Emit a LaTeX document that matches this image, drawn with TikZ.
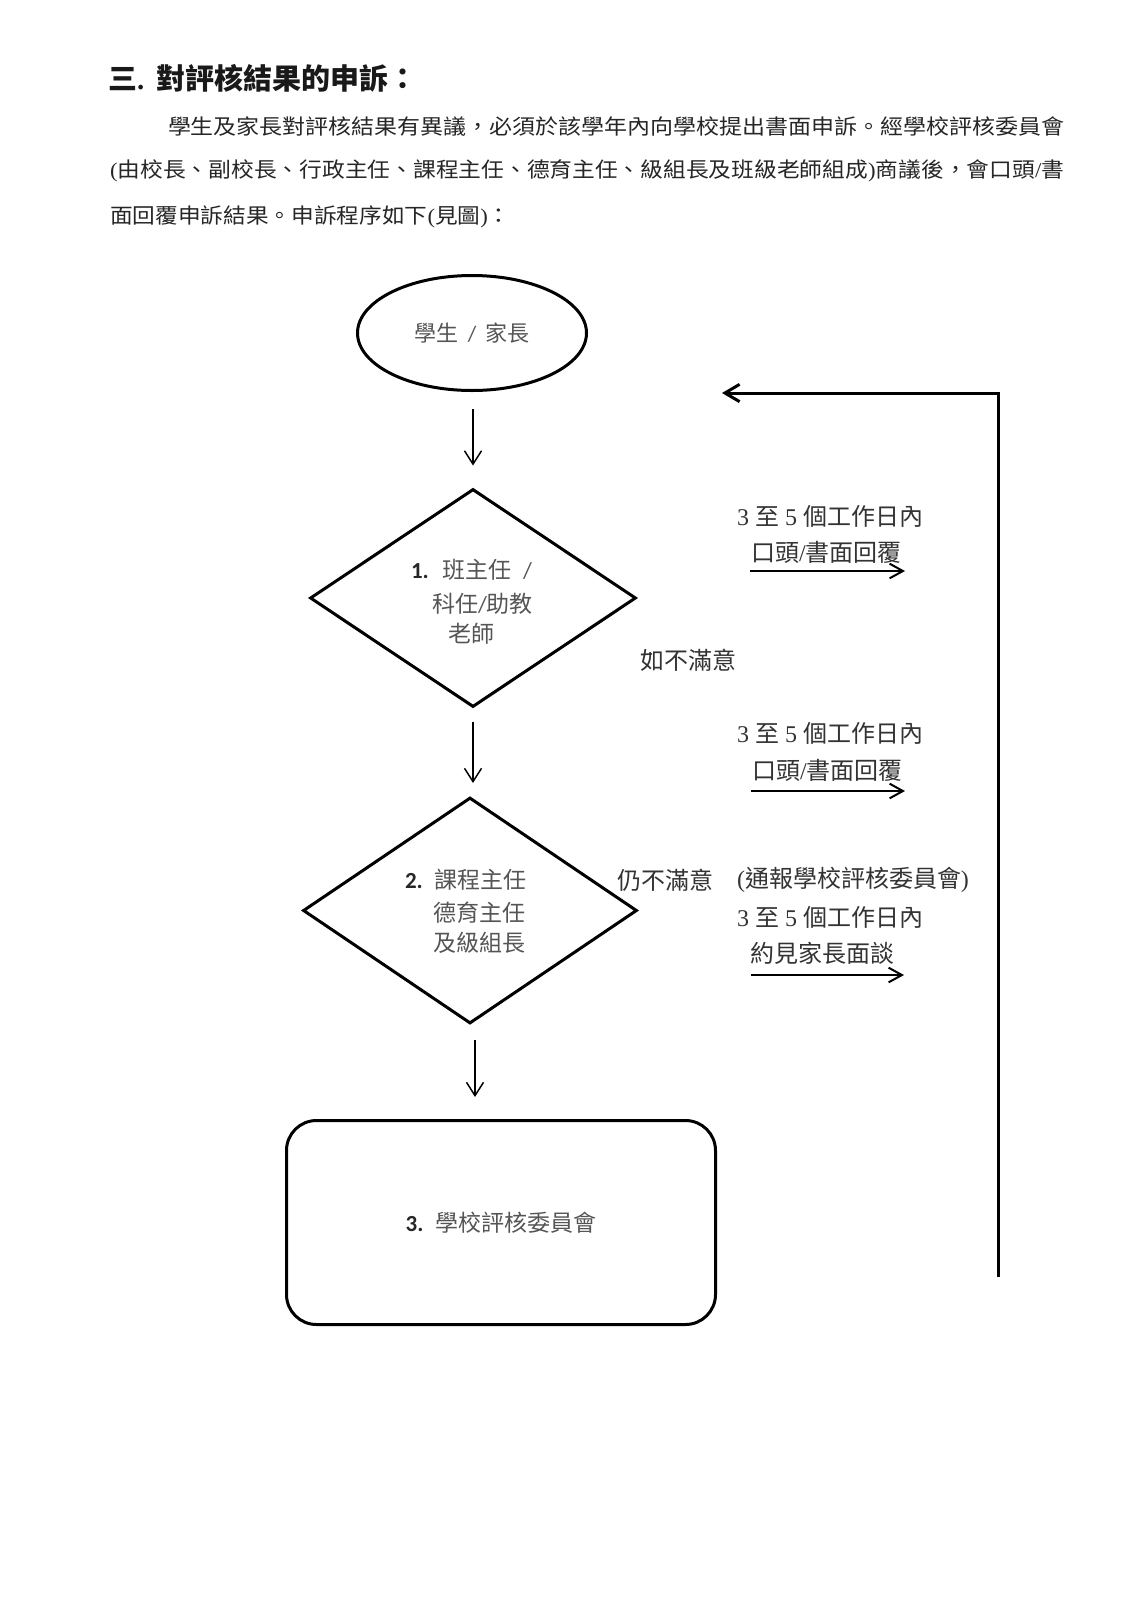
\documentclass[tikz,border=0pt]{standalone}
\usepackage{fontspec}
\usepackage{graphicx}
\usetikzlibrary{shapes.geometric,arrows.meta,calc}
\newfontfamily\cjk{Noto Sans CJK TC}
\newfontfamily\lat{Liberation Serif}
\newfontfamily\numfont{Carlito}
\newcommand\fsz[1]{\fontsize{#1}{#1}\selectfont}
\definecolor{bodytxt}{HTML}{262626}
\definecolor{nodetxt}{HTML}{555555}
\definecolor{numtxt}{HTML}{262626}
\definecolor{labtxt}{HTML}{333333}
\begin{document}
\begin{tikzpicture}[x=0.75pt,y=-0.75pt,
  plain/.style={inner sep=0pt, outer sep=0pt},
  bodyline/.style={plain, anchor=west, font=\cjk\fsz{15.75pt}, text=bodytxt},
  nodeline/.style={plain, anchor=west, font=\cjk\fsz{17.25pt}, text=nodetxt},
  labline/.style={plain, anchor=west, font=\cjk\fsz{18pt}, text=labtxt},
  shapeline/.style={draw=black, line width=2.25pt},
  flowarrow/.style={line width=1.1pt, -{Straight Barb[length=10pt,width=12.75pt,line width=1.1pt]}},
  labarrow/.style={line width=1.5pt, -{Straight Barb[length=10pt,width=11pt,line width=1.5pt]}},
  backarrow/.style={line width=2.25pt, -{Straight Barb[length=11pt,width=13pt,line width=2.25pt]}}
]
\fill[white] (0,0) rectangle (1131,1600);
\useasboundingbox (0,0) rectangle (1131,1600);

% header
\node[plain, anchor=west, font=\cjk\fsz{21.75pt}\bfseries, text=black!90] (title) at (108,78)
  {三{\lat .}\hspace{9pt}對評核結果的申訴：};
\node[bodyline] (p1) at (168,127)
  {\resizebox{672pt}{\height}{學生及家長對評核結果有異議，必須於該學年內向學校提出書面申訴。經學校評核委員會}};
\node[bodyline] (p2) at (110,171)
  {\resizebox{715.5pt}{\height}{{\lat(}由校長、副校長、行政主任、課程主任、德育主任、級組長及班級老師組成{\lat)}商議後，會口頭{\lat/}書}};
\node[bodyline] (p3) at (110,217)
  {\scalebox{1.08}[1]{面回覆申訴結果。申訴程序如下{\lat(}見圖{\lat)}：}};

% flow shapes
\node[shapeline, ellipse, minimum width=171.75pt, minimum height=86.25pt, inner sep=0pt,
      font=\cjk\fsz{16.5pt}, text=nodetxt] (start) at (472,333)
  {學生\hspace{7pt}{\numfont /}\hspace{7pt}家長};
\node[shapeline, diamond, minimum width=244.5pt, minimum height=163.5pt, inner sep=0pt] (d1) at (473,598) {};
\node[shapeline, diamond, minimum width=250.5pt, minimum height=169.5pt, inner sep=0pt] (d2) at (470,910.5) {};
\node[shapeline, rounded corners=22.5pt, minimum width=321.75pt, minimum height=153pt, inner sep=0pt,
      font=\cjk\fsz{17.25pt}, text=nodetxt] (board) at (501,1222.5)
  {{\numfont\bfseries\color{numtxt}3.}\hspace{9pt}學校評核委員會};

% text in diamonds
\node[nodeline] (d1a) at (411,570) {{\numfont\bfseries\color{numtxt}1.}\hspace{10pt}班主任\hspace{9pt}{\numfont /}};
\node[nodeline] (d1b) at (432,604) {科任{\numfont /}助教};
\node[nodeline] (d1c) at (448,634) {老師};
\node[nodeline] (d2a) at (405,880) {{\numfont\bfseries\color{numtxt}2.}\hspace{9pt}課程主任};
\node[nodeline] (d2b) at (433,913) {德育主任};
\node[nodeline] (d2c) at (433,943) {及級組長};

% flow arrows (vertical)
\draw[flowarrow] ($(d1.north |- start.south)+(0,17)$) -- ($(d1.north)+(0,-22)$);
\draw[flowarrow] ($(d1.south)+(0,13)$) -- ($(d1.south |- d2.north)+(0,-13)$);
\draw[flowarrow] ($(d2.south)+(5,15)$) -- ($(d2.south |- board.north)+(5,-22)$);

% feedback loop
\coordinate (loopbot) at (998,1277);
\coordinate (looptop) at (998,393);
\coordinate (loopend) at (722,393);
\draw[backarrow] (loopbot) -- (looptop) -- (loopend);

% side labels
\node[labline] (l1a) at (737,516) {{\lat 3 }至{\lat\ 5 }個工作日內};
\node[labline] (l1b) at (751,552) {口頭{\lat /}書面回覆};
\coordinate (a1s) at (750,571);
\coordinate (a1e) at (905,571);
\draw[labarrow] (a1s) -- (a1e);

\node[labline] (ns1) at (640,660) {如不滿意};

\node[labline] (l2a) at (737,733) {{\lat 3 }至{\lat\ 5 }個工作日內};
\node[labline] (l2b) at (752,770) {口頭{\lat /}書面回覆};
\coordinate (a2s) at (751,791);
\coordinate (a2e) at (905,791);
\draw[labarrow] (a2s) -- (a2e);

\node[labline] (ns2) at (617,880) {仍不滿意};
\node[labline] (l3n) at (737,880) {{\lat(}通報學校評核委員會{\lat)}};
\node[labline] (l3a) at (737,917) {{\lat 3 }至{\lat\ 5 }個工作日內};
\node[labline] (l3b) at (750,953) {約見家長面談};
\coordinate (a3s) at (751,975);
\coordinate (a3e) at (904,975);
\draw[labarrow] (a3s) -- (a3e);
\end{tikzpicture}
\end{document}
